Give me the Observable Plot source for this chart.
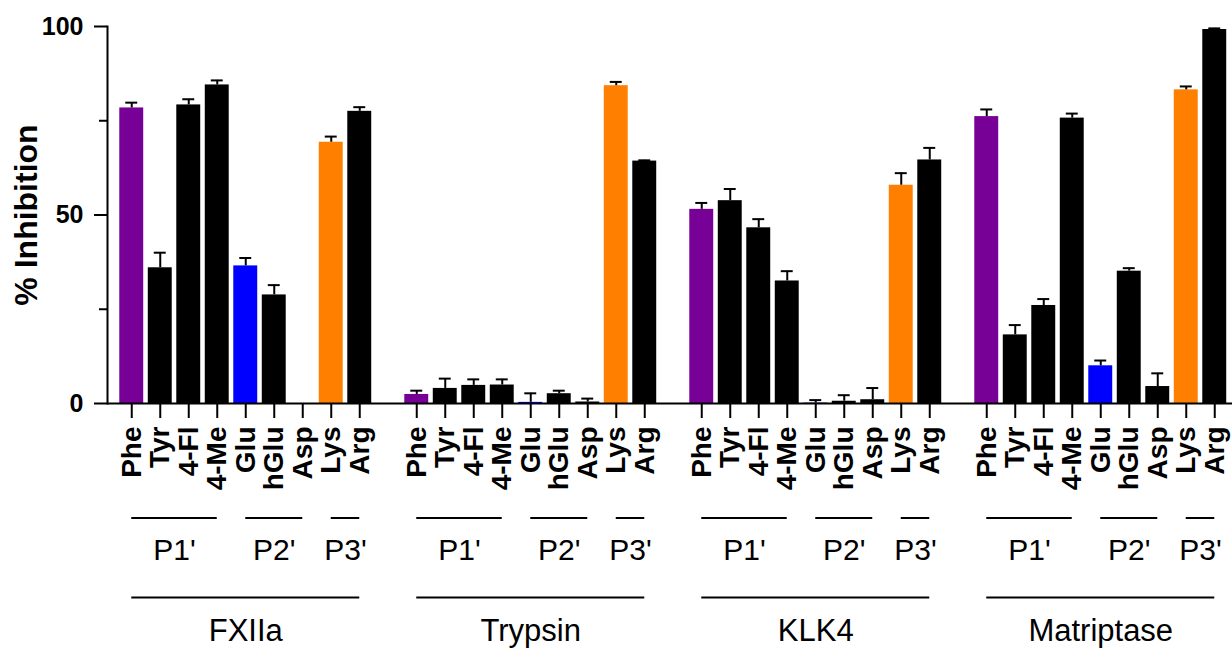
<!DOCTYPE html>
<html>
<head>
<meta charset="utf-8">
<script src="https://cdn.jsdelivr.net/npm/d3@7"></script>
<script src="https://cdn.jsdelivr.net/npm/@observablehq/plot@0.6"></script>
<style>
  html, body { margin: 0; padding: 0; background: #fff; }
  #chart { width: 1232px; height: 648px; }
</style>
</head>
<body>
<div id="chart"></div>
<script>
// ---------- data ----------
const enzymes = ["FXIIa", "Trypsin", "KLK4", "Matriptase"];
const residues = ["Phe", "Tyr", "4-Fl", "4-Me", "Glu", "hGlu", "Asp", "Lys", "Arg"];
const residueColors = ["#770096", "#000000", "#000000", "#000000", "#0000ff", "#000000", "#000000", "#ff8000", "#000000"];

const fxiiaMean      = [78.4, 36.0, 79.2, 84.5, 36.5, 28.8, 0.0, 69.3, 77.5];
const fxiiaSd        = [1.4, 4.0, 1.5, 1.2, 2.1, 2.6, 0.0, 1.5, 1.1];
const trypsinMean    = [2.4, 4.0, 4.8, 4.9, 0.3, 2.6, 0.4, 84.3, 64.3];
const trypsinSd      = [1.0, 2.6, 1.6, 1.5, 2.4, 0.8, 0.9, 1.0, 0.2];
const klk4Mean       = [51.5, 53.8, 46.6, 32.5, 0.1, 0.6, 1.0, 57.9, 64.6];
const klk4Sd         = [1.7, 3.1, 2.3, 2.6, 0.8, 1.6, 3.1, 3.2, 3.2];
const matriptaseMean = [76.1, 18.2, 26.0, 75.7, 10.0, 35.1, 4.5, 83.2, 99.2];
const matriptaseSd   = [1.9, 2.6, 1.7, 1.2, 1.4, 0.8, 3.5, 0.9, 0.3];

const sites     = ["P1'", "P2'", "P3'"];
const siteFirst = ["Phe", "Glu", "Lys"];
const siteLast  = ["4-Me", "Asp", "Arg"];

const yMajorTicks = [0, 50, 100];
const yMinorTicks = [25, 75];
const yLabel = "% Inhibition";

// ---------- derived tables ----------
const means = [fxiiaMean, trypsinMean, klk4Mean, matriptaseMean];
const sds = [fxiiaSd, trypsinSd, klk4Sd, matriptaseSd];
const keyOf = (e, r) => e + "|" + r;

const domain = [];
enzymes.forEach((e, i) => {
  if (i) domain.push("gap" + i);
  residues.forEach(r => domain.push(keyOf(e, r)));
});
const realKeys = domain.filter(k => k.includes("|"));

const rows = [];
enzymes.forEach((e, i) => residues.forEach((r, j) => rows.push({
  key: keyOf(e, r), enzyme: e, residue: r, value: means[i][j], sd: sds[i][j]
})));
const errRows = rows.filter(d => d.sd > 0);

const brackets = enzymes.flatMap(e => sites.map((s, k) => {
  const a = residues.indexOf(siteFirst[k]), b = residues.indexOf(siteLast[k]);
  return {x1: keyOf(e, siteFirst[k]), x2: keyOf(e, siteLast[k]), label: s,
          anchor: keyOf(e, residues[Math.floor((a + b) / 2)]), half: (a + b) % 2 === 1};
}));
const groups = enzymes.map(e => ({
  x1: keyOf(e, residues[0]), x2: keyOf(e, residues[residues.length - 1]), label: e,
  anchor: keyOf(e, residues[Math.floor((residues.length - 1) / 2)])
}));

// ---------- layout ----------
const W = 1232, H = 648;
const mTop = 26, mBottom = 245, mLeft = 107, mRight = 0;
const bandRange = [117, 1228.5];
const padInner = 0.16;
const step = (bandRange[1] - bandRange[0]) / domain.length;
const bw = step * (1 - padInner);
const baseY = H - mBottom;
const centerY = (mTop + H - mBottom) / 2;
const bracketY = 517.5, siteTextY = 559.5, groupY = 597, groupTextY = 640.5;
const font = "'Liberation Sans', Arial, Helvetica, sans-serif";

const chart = Plot.plot({
  width: W, height: H,
  marginTop: mTop, marginBottom: mBottom, marginLeft: mLeft, marginRight: mRight,
  style: {fontFamily: font, color: "#000", background: "#fff", overflow: "visible"},
  x: {type: "band", domain, range: bandRange, round: false, paddingInner: padInner, paddingOuter: padInner / 2, label: null},
  y: {domain: [0, 100], nice: false, label: null},
  color: {domain: residues, range: residueColors},
  marks: [
    Plot.barY(rows, {x: "key", y: "value", fill: "residue"}),
    Plot.ruleX(errRows, {x: "key", y1: "value", y2: d => d.value + d.sd, stroke: "#000", strokeWidth: 2}),
    Plot.tickY(errRows, {x: "key", y: d => d.value + d.sd, stroke: "#000", strokeWidth: 2, insetLeft: 6, insetRight: 6}),
    Plot.ruleY([0], {stroke: "#000", strokeWidth: 2}),
    Plot.frame({anchor: "left", strokeWidth: 2}),
    Plot.axisY({ticks: yMajorTicks, tickSize: 13, tickPadding: 11, fontSize: 25, fontWeight: "bold",
                strokeWidth: 2, label: null}),
    Plot.axisY({ticks: yMinorTicks, tickSize: 8, tickFormat: () => "", strokeWidth: 2, label: null}),
    Plot.axisX({ticks: realKeys, tickFormat: d => d.split("|")[1], tickRotate: -90, tickSize: 15, tickPadding: 8,
                fontSize: 28, fontWeight: "bold", strokeWidth: 2, label: null}),
    Plot.text([yLabel], {frameAnchor: "left", textAnchor: "middle", text: d => d, rotate: -90, dx: -81,
                         fontSize: 32, fontWeight: "bold", fill: "#000"}),
    // site brackets and labels
    Plot.ruleY(brackets, {x1: "x1", x2: "x2", y: null, insetLeft: bw / 2, insetRight: bw / 2,
                          dy: bracketY - centerY, stroke: "#000", strokeWidth: 2}),
    Plot.text(brackets.filter(d => d.half), {x: "anchor", text: "label", frameAnchor: "bottom", lineAnchor: "bottom",
                          dx: step / 2, dy: siteTextY - baseY, fontSize: 30, fill: "#000"}),
    Plot.text(brackets.filter(d => !d.half), {x: "anchor", text: "label", frameAnchor: "bottom", lineAnchor: "bottom",
                          dy: siteTextY - baseY, fontSize: 30, fill: "#000"}),
    // enzyme lines and labels
    Plot.ruleY(groups, {x1: "x1", x2: "x2", y: null, insetLeft: bw / 2, insetRight: bw / 2,
                        dy: groupY - centerY, stroke: "#000", strokeWidth: 2}),
    Plot.text(groups, {x: "anchor", text: "label", frameAnchor: "bottom", lineAnchor: "bottom",
                       dy: groupTextY - baseY, fontSize: 31, fill: "#000"})
  ]
});
document.getElementById("chart").appendChild(chart);
</script>
</body>
</html>
